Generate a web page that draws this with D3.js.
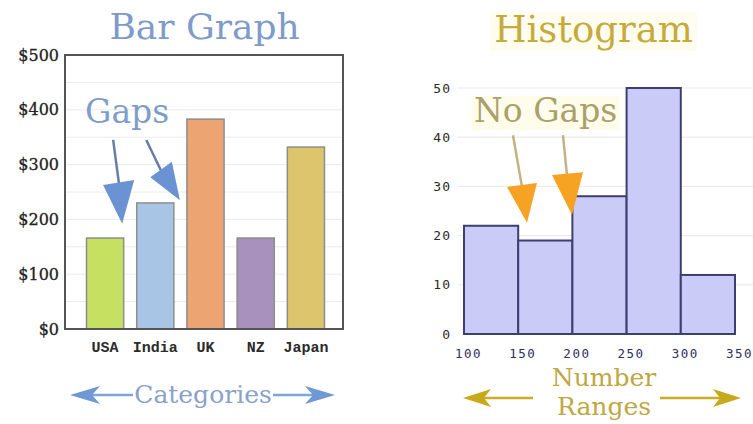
<!DOCTYPE html>
<html><head><meta charset="utf-8">
<script src="https://cdn.jsdelivr.net/npm/d3@7"></script>
<style>body{margin:0;background:#fff}svg{display:block}</style>
</head><body>
<script>
// ---- data ----
const categories = ["USA", "India", "UK", "NZ", "Japan"];
const amounts = [166, 230, 383, 166, 332];
const barYTicks = [0, 100, 200, 300, 400, 500];
const binEdges = [100, 150, 200, 250, 300, 350];
const binCounts = [22, 19, 28, 50, 12];
const histYTicks = [0, 10, 20, 30, 40, 50];
// annotation anchors, in data units: [xIndex, value]
const gapArrows = [
  {stem: [[0.16, 345], [0.28, 263]], head: [[-0.04, 263], [0.34, 192], [0.58, 272]]},
  {stem: [[0.82, 345], [1.13, 286]], head: [[0.90, 277], [1.49, 235], [1.33, 305]]}
];
// [rangeValue, count]
const noGapArrows = [
  {stem: [[145.2, 40.4], [153.5, 29.9]], head: [[139.7, 29.9], [158.1, 22.6], [167.3, 30.7]]},
  {stem: [[191.3, 40.4], [195.0, 32.3]], head: [[181.2, 32.3], [199.6, 24.2], [209.8, 32.9]]}
];

// ---- styles ----
const palette = ["#c6e062", "#a9c5e6", "#eca473", "#a991be", "#dcc56d"];
const serif = "DejaVu Serif";

const W = 753, H = 424;
const svg = d3.select("body").append("svg").attr("width", W).attr("height", H);

// ================= BAR GRAPH =================
const frame = {l: 65, r: 343, t: 55, b: 329};
const x = d3.scaleBand().domain(categories).range([80, 331]).paddingInner(0.26).paddingOuter(0.13);
const y = d3.scaleLinear().domain([0, 500]).range([frame.b, frame.t]);
const xi = d3.scaleLinear().domain([0, 1]).range([x(categories[0]) + x.bandwidth() / 2, x(categories[1]) + x.bandwidth() / 2]);

const gL = svg.append("g");
gL.append("g").selectAll("line").data(y.ticks(10)).join("line")
  .attr("x1", frame.l).attr("x2", frame.r).attr("y1", d => y(d)).attr("y2", d => y(d))
  .attr("stroke", "#ececec").attr("stroke-width", 1);

gL.append("g").selectAll("rect").data(amounts).join("rect")
  .attr("x", (d, i) => x(categories[i])).attr("width", x.bandwidth())
  .attr("y", d => y(d)).attr("height", d => y(0) - y(d))
  .attr("fill", (d, i) => palette[i]).attr("stroke", "#8d8d8d").attr("stroke-width", 1.5);

gL.append("rect").attr("x", frame.l).attr("y", frame.t)
  .attr("width", frame.r - frame.l).attr("height", frame.b - frame.t)
  .attr("fill", "none").attr("stroke", "#555").attr("stroke-width", 2);

const ay = gL.append("g").attr("transform", `translate(${frame.l},0)`)
  .call(d3.axisLeft(y).tickValues(barYTicks).tickFormat(d => "$" + d).tickSize(0).tickPadding(6));
ay.select(".domain").remove();
ay.selectAll("text").attr("font-family", serif).attr("font-size", 16).attr("fill", "#222")
  .attr("stroke", "#222").attr("stroke-width", 0.3);

const ax = gL.append("g").attr("transform", `translate(0,${frame.b})`)
  .call(d3.axisBottom(x).tickSize(0).tickPadding(12));
ax.select(".domain").remove();
ax.selectAll("text").attr("font-family", "Liberation Mono").attr("font-weight", "bold")
  .attr("font-size", 15).attr("fill", "#2b2b2b");

gL.append("text").attr("x", 204.5).attr("y", 39).attr("text-anchor", "middle")
  .attr("font-family", serif).attr("font-size", 36).attr("fill", "#7e9bc9").text("Bar Graph");

gL.append("text").attr("x", xi(-0.40)).attr("y", y(376))
  .attr("font-family", serif).attr("font-size", 33).attr("fill", "#7f9dcb").text("Gaps");

gapArrows.forEach(a => {
  gL.append("line").attr("x1", xi(a.stem[0][0])).attr("y1", y(a.stem[0][1]))
    .attr("x2", xi(a.stem[1][0])).attr("y2", y(a.stem[1][1]))
    .attr("stroke", "#687ea6").attr("stroke-width", 2.5);
  gL.append("polygon").attr("points", a.head.map(p => [xi(p[0]), y(p[1])].join(",")).join(" "))
    .attr("fill", "#6b92d2");
});

// Categories double arrow
const catY = 395;
gL.append("text").attr("x", 203).attr("y", 403).attr("text-anchor", "middle")
  .attr("font-family", serif).attr("font-size", 25).attr("fill", "#89a2c9").text("Categories");
gL.append("line").attr("x1", 90).attr("x2", 133).attr("y1", catY).attr("y2", catY)
  .attr("stroke", "#7fa4d8").attr("stroke-width", 2.5);
gL.append("line").attr("x1", 273).attr("x2", 315).attr("y1", catY).attr("y2", catY)
  .attr("stroke", "#7fa4d8").attr("stroke-width", 2.5);
gL.append("polygon").attr("points", `70,${catY} 100,${catY-9} 92,${catY} 100,${catY+9}`).attr("fill", "#6f98d4");
gL.append("polygon").attr("points", `335,${catY} 305,${catY-9} 313,${catY} 305,${catY+9}`).attr("fill", "#6f98d4");

// ================= HISTOGRAM =================
const xh = d3.scaleLinear().domain([100, 350]).range([464, 735]);
const yh = d3.scaleLinear().domain([0, 50]).range([334, 88]);
const gR = svg.append("g");

// title with faint highlight
const titleR = gR.append("text").attr("x", 593.5).attr("y", 42).attr("text-anchor", "middle")
  .attr("font-family", serif).attr("font-size", 37).attr("fill", "#c6aa3a").text("Histogram");
{
  const bb = titleR.node().getBBox();
  gR.insert("rect", "text").attr("x", bb.x - 4).attr("y", bb.y + 4).attr("width", bb.width + 8).attr("height", bb.height - 4)
    .attr("fill", "#fffdf0");
}

gR.append("g").selectAll("line").data(histYTicks.filter(d => d > 0)).join("line")
  .attr("x1", 458).attr("x2", W).attr("y1", d => yh(d)).attr("y2", d => yh(d))
  .attr("stroke", "#ebebeb").attr("stroke-width", 1.2);

gR.append("g").selectAll("rect").data(binCounts).join("rect")
  .attr("x", (d, i) => xh(binEdges[i])).attr("width", (d, i) => xh(binEdges[i + 1]) - xh(binEdges[i]))
  .attr("y", d => yh(d)).attr("height", d => yh(0) - yh(d))
  .attr("fill", "#cbcbf8").attr("stroke", "#3f3f6e").attr("stroke-width", 2);

const hy = gR.append("g").attr("transform", `translate(${xh(100)},0)`)
  .call(d3.axisLeft(yh).tickValues(histYTicks).tickSize(0).tickPadding(13));
hy.select(".domain").remove();
hy.selectAll("text").attr("font-family", "DejaVu Sans Mono").attr("font-size", 13)
  .attr("letter-spacing", 1).attr("fill", "#2a2a2a");

const hx = gR.append("g").attr("transform", `translate(0,${yh(0)})`)
  .call(d3.axisBottom(xh).tickValues(binEdges).tickSize(0).tickPadding(15));
hx.select(".domain").remove();
hx.selectAll("text").attr("font-family", "DejaVu Sans Mono").attr("font-size", 12.5)
  .attr("letter-spacing", 1.5).attr("dx", 4).attr("fill", "#2e2e5c");

// No Gaps label
const ng = gR.append("text").attr("x", xh(109.2)).attr("y", yh(43.1))
  .attr("font-family", serif).attr("font-size", 33).attr("fill", "#aaa06c").text("No Gaps");
{
  const bb = ng.node().getBBox();
  gR.insert("rect", () => ng.node()).attr("x", bb.x - 3).attr("y", bb.y + 5).attr("width", bb.width + 6).attr("height", bb.height - 5)
    .attr("fill", "#fffcea");
}

noGapArrows.forEach(a => {
  gR.append("line").attr("x1", xh(a.stem[0][0])).attr("y1", yh(a.stem[0][1]))
    .attr("x2", xh(a.stem[1][0])).attr("y2", yh(a.stem[1][1]))
    .attr("stroke", "#c4b283").attr("stroke-width", 2.5);
  gR.append("polygon").attr("points", a.head.map(p => [xh(p[0]), yh(p[1])].join(",")).join(" "))
    .attr("fill", "#f6a324");
});

// Number Ranges
gR.append("text").attr("x", 604).attr("y", 386).attr("text-anchor", "middle")
  .attr("font-family", serif).attr("font-size", 25).attr("fill", "#bfa743").text("Number");
gR.append("text").attr("x", 604).attr("y", 415).attr("text-anchor", "middle")
  .attr("font-family", serif).attr("font-size", 25).attr("fill", "#bfa743").text("Ranges");
const nrY = 398;
gR.append("line").attr("x1", 482).attr("x2", 533).attr("y1", nrY).attr("y2", nrY)
  .attr("stroke", "#cbac22").attr("stroke-width", 2.5);
gR.append("line").attr("x1", 660).attr("x2", 722).attr("y1", nrY).attr("y2", nrY)
  .attr("stroke", "#cbac22").attr("stroke-width", 2.5);
gR.append("polygon").attr("points", `463,${nrY} 491,${nrY-9} 484,${nrY} 491,${nrY+9}`).attr("fill", "#c9a91c");
gR.append("polygon").attr("points", `741,${nrY} 713,${nrY-9} 720,${nrY} 713,${nrY+9}`).attr("fill", "#c9a91c");
</script>
</body></html>
